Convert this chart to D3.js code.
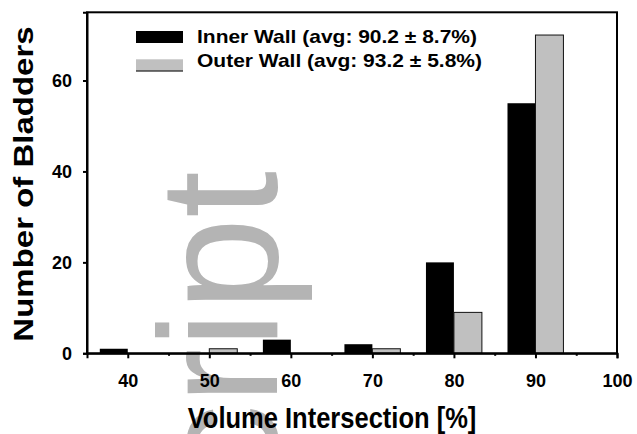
<!DOCTYPE html>
<html>
<head>
<meta charset="utf-8">
<script src="https://cdn.jsdelivr.net/npm/d3@7"></script>
<style>
  body { margin: 0; background: #fff; }
  text { font-family: "Liberation Sans", Arial, sans-serif; }
</style>
</head>
<body>
<svg id="chart"></svg>
<script>
// values
const bins = [40, 50, 60, 70, 80, 90];
const innerWall = [1, 0, 3, 2, 20, 55];
const outerWall = [0, 1, 0, 1, 9, 70];
const xTicks = [40, 50, 60, 70, 80, 90, 100];
const xMinorTicks = [45, 55, 65, 75, 85, 95];
const yTicks = [0, 20, 40, 60];
const seriesNames = ["Inner Wall (avg: 90.2 ± 8.7%)", "Outer Wall (avg: 93.2 ± 5.8%)"];

const width = 637;
const height = 434;
const plot = { left: 87, right: 617, top: 12.3, bottom: 353.3 };
const barW = 3.43; // bar width in x units

const svg = d3.select("#chart")
  .attr("width", width)
  .attr("height", height);

const x = d3.scaleLinear().domain([35, 100]).range([plot.left, plot.right]);
const y = d3.scaleLinear().domain([0, 75]).range([plot.bottom, plot.top]);

// faint manuscript watermark behind the plot
svg.append("text")
  .attr("transform", "translate(277,171) rotate(-90)")
  .attr("text-anchor", "end")
  .style("font-size", "168px")
  .style("fill", "#b4b4b4")
  .text("Manuscript");

// bars
const rows = bins.map((b, i) => ({ bin: b, inner: innerWall[i], outer: outerWall[i] }));

svg.selectAll(".inner")
  .data(rows.filter(d => d.inner > 0))
  .enter()
  .append("rect")
  .attr("class", "inner")
  .attr("x", d => x(d.bin - barW))
  .attr("width", d => x(d.bin) - x(d.bin - barW))
  .attr("y", d => y(d.inner))
  .attr("height", d => y(0) - y(d.inner))
  .attr("fill", "#000");

svg.selectAll(".outer")
  .data(rows.filter(d => d.outer > 0))
  .enter()
  .append("rect")
  .attr("class", "outer")
  .attr("x", d => x(d.bin))
  .attr("width", d => x(d.bin + barW) - x(d.bin))
  .attr("y", d => y(d.outer))
  .attr("height", d => y(0) - y(d.outer))
  .attr("fill", "#c0c0c0")
  .attr("stroke", "#111")
  .attr("stroke-width", 1);

// frame
svg.append("rect")
  .attr("x", plot.left)
  .attr("y", plot.top)
  .attr("width", plot.right - plot.left)
  .attr("height", plot.bottom - plot.top)
  .attr("fill", "none")
  .attr("stroke", "#000")
  .attr("stroke-width", 2);

// x axis
const xAxis = svg.append("g")
  .attr("transform", "translate(0," + plot.bottom + ")")
  .call(d3.axisBottom(x).tickValues(xTicks).tickSize(5).tickPadding(16));

svg.append("g")
  .attr("transform", "translate(0," + plot.bottom + ")")
  .call(d3.axisBottom(x).tickValues(xMinorTicks).tickSize(2.5).tickFormat(""))
  .select(".domain").remove();

// y axis
const yAxis = svg.append("g")
  .attr("transform", "translate(" + plot.left + ",0)")
  .call(d3.axisLeft(y).tickValues(yTicks).tickSize(4).tickPadding(11));

svg.selectAll(".tick line").attr("stroke", "#000").attr("stroke-width", 2);
svg.selectAll(".domain").attr("stroke", "#000").attr("stroke-width", 2);
[xAxis, yAxis].forEach(a => a.selectAll("text")
  .style("font-family", "'Liberation Sans', Arial, sans-serif")
  .style("font-size", "18px")
  .style("font-weight", "bold")
  .attr("fill", "#000"));
yAxis.selectAll("text").attr("dy", "0.36em");

// axis titles
svg.append("text")
  .attr("transform", "translate(332,428) scale(0.88,1)")
  .attr("text-anchor", "middle")
  .style("font-size", "29px")
  .style("font-weight", "bold")
  .text("Volume Intersection [%]");

svg.append("text")
  .attr("transform", "translate(33,184) scale(0.86,1) rotate(-90)")
  .attr("text-anchor", "middle")
  .style("font-size", "33px")
  .style("font-weight", "bold")
  .text("Number of Bladders");

// legend
const legend = svg.append("g");
const legendRows = [
  { name: seriesNames[0], fill: "#000", top: 31, base: 42.7, len: 280 },
  { name: seriesNames[1], fill: "#c0c0c0", top: 59.3, base: 67.3, len: 285 }
];

legend.selectAll("rect")
  .data(legendRows)
  .enter()
  .append("rect")
  .attr("x", 136)
  .attr("y", d => d.top)
  .attr("width", 47)
  .attr("height", 12)
  .attr("fill", d => d.fill);

legend.append("line")
  .attr("x1", 136).attr("x2", 183)
  .attr("y1", 71).attr("y2", 71)
  .attr("stroke", "#000")
  .attr("stroke-width", 1.2);

legend.selectAll("text")
  .data(legendRows)
  .enter()
  .append("text")
  .attr("x", 197)
  .attr("y", d => d.base)
  .attr("textLength", d => d.len)
  .attr("lengthAdjust", "spacingAndGlyphs")
  .style("font-size", "18.5px")
  .style("font-weight", "bold")
  .text(d => d.name);
</script>
</body>
</html>
